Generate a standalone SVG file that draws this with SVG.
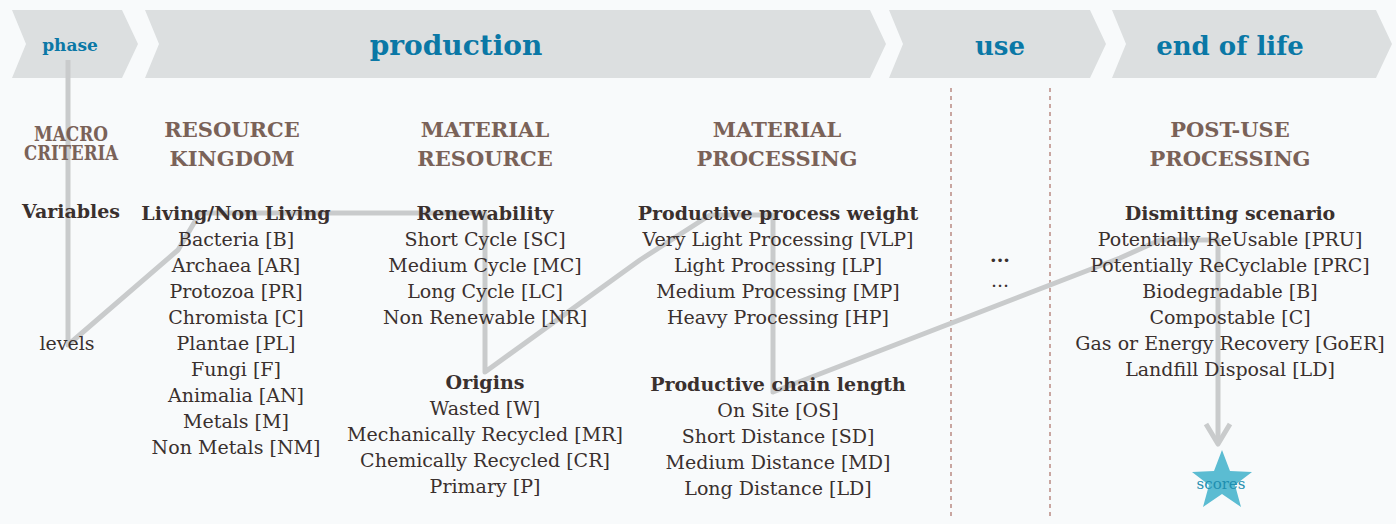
<svg xmlns="http://www.w3.org/2000/svg" width="1396" height="524" viewBox="0 0 1396 524">
<style>
text{font-family:"DejaVu Serif","Liberation Serif",serif}
.ph{fill:#dcdfe0}
.pt{font-weight:bold;fill:#0a78a6;text-anchor:middle}
.hd{font-weight:bold;fill:#7a6258;font-size:21px;text-anchor:middle}
.vb{font-weight:bold;fill:#3a302e;font-size:19px;text-anchor:middle}
.it{fill:#3a302e;font-size:19px;text-anchor:middle}
.con{fill:none;stroke:#c9cbcc;stroke-width:5;stroke-linejoin:round}
.sep{stroke:#b07a70;stroke-width:1.3;stroke-dasharray:4,4}
</style>
<rect width="1396" height="524" fill="#f8fafb"/>
<g id="header">
<polygon class="ph" points="12,10 122,10 138,44 122,78 12,78 26,44"/>
<polygon class="ph" points="145,10 870,10 886,44 870,78 145,78 159,44"/>
<polygon class="ph" points="889,10 1090,10 1106,44 1090,78 889,78 903,44"/>
<polygon class="ph" points="1112,10 1376,10 1392,44 1376,78 1112,78 1126,44"/>
</g>
<g id="separators">
<line class="sep" x1="951" y1="88" x2="951" y2="516"/>
<line class="sep" x1="1050" y1="88" x2="1050" y2="516"/>
</g>
<g id="connectors">
<polyline class="con" points="68,60 68,345 178,250 200,213 485,213 485,372 640,260 710,215 773,215 773,392 1120,258 1160,240 1218,240 1218,440"/>
<polyline class="con" points="1206,424 1218,444 1230,424"/>
</g>
<g id="phases">
<text class="pt" x="70" y="51" font-size="17">phase</text>
<text class="pt" x="456" y="55" font-size="28">production</text>
<text class="pt" x="1000" y="55" font-size="26">use</text>
<text class="pt" x="1230" y="55" font-size="26">end of life</text>
</g>
<g id="labels">
<text class="hd" x="71" y="141" font-size="14" textLength="74" lengthAdjust="spacingAndGlyphs">MACRO</text>
<text class="hd" x="71" y="160" font-size="14" textLength="94" lengthAdjust="spacingAndGlyphs">CRITERIA</text>
<text class="vb" x="71" y="218" font-size="17">Variables</text>
<text class="it" x="67" y="350" font-size="17">levels</text>
</g>
<g id="resource-kingdom">
<text class="hd" x="232" y="137">RESOURCE</text>
<text class="hd" x="232" y="166">KINGDOM</text>
<text class="vb" x="236" y="220">Living/Non Living</text>
<text class="it" x="236" y="246">Bacteria [B]</text>
<text class="it" x="236" y="272">Archaea  [AR]</text>
<text class="it" x="236" y="298">Protozoa [PR]</text>
<text class="it" x="236" y="324">Chromista [C]</text>
<text class="it" x="236" y="350">Plantae [PL]</text>
<text class="it" x="236" y="376">Fungi [F]</text>
<text class="it" x="236" y="402">Animalia [AN]</text>
<text class="it" x="236" y="428">Metals [M]</text>
<text class="it" x="236" y="454">Non Metals [NM]</text>
</g>
<g id="material-resource">
<text class="hd" x="485" y="137">MATERIAL</text>
<text class="hd" x="485" y="166">RESOURCE</text>
<text class="vb" x="485" y="220">Renewability</text>
<text class="it" x="485" y="246">Short Cycle [SC]</text>
<text class="it" x="485" y="272">Medium Cycle [MC]</text>
<text class="it" x="485" y="298">Long Cycle [LC]</text>
<text class="it" x="485" y="324">Non Renewable [NR]</text>
<text class="vb" x="485" y="389">Origins</text>
<text class="it" x="485" y="415">Wasted [W]</text>
<text class="it" x="485" y="441">Mechanically Recycled [MR]</text>
<text class="it" x="485" y="467">Chemically Recycled [CR]</text>
<text class="it" x="485" y="493">Primary [P]</text>
</g>
<g id="material-processing">
<text class="hd" x="777" y="137">MATERIAL</text>
<text class="hd" x="777" y="166">PROCESSING</text>
<text class="vb" x="778" y="220">Productive process weight</text>
<text class="it" x="778" y="246">Very Light Processing [VLP]</text>
<text class="it" x="778" y="272">Light Processing [LP]</text>
<text class="it" x="778" y="298">Medium Processing [MP]</text>
<text class="it" x="778" y="324">Heavy Processing [HP]</text>
<text class="vb" x="778" y="391">Productive chain length</text>
<text class="it" x="778" y="417">On Site [OS]</text>
<text class="it" x="778" y="443">Short Distance [SD]</text>
<text class="it" x="778" y="469">Medium Distance [MD]</text>
<text class="it" x="778" y="495">Long Distance [LD]</text>
</g>
<g id="use">
<text class="vb" x="1000" y="262">...</text>
<text class="it" x="1000" y="287">...</text>
</g>
<g id="post-use-processing">
<text class="hd" x="1230" y="137">POST-USE</text>
<text class="hd" x="1230" y="166">PROCESSING</text>
<text class="vb" x="1230" y="220">Dismitting scenario</text>
<text class="it" x="1230" y="246">Potentially ReUsable [PRU]</text>
<text class="it" x="1230" y="272">Potentially ReCyclable [PRC]</text>
<text class="it" x="1230" y="298">Biodegradable [B]</text>
<text class="it" x="1230" y="324">Compostable [C]</text>
<text class="it" x="1230" y="350">Gas or Energy Recovery [GoER]</text>
<text class="it" x="1230" y="376">Landfill Disposal [LD]</text>
</g>
<g id="scores">
<polygon fill="#5bbcd2" points="1222,450 1230,471 1252,472 1235,485 1241,507 1222,494 1203,507 1209,485 1192,472 1214,471"/>
<text x="1221" y="489" font-size="15" fill="#1f8fb0" text-anchor="middle">scores</text>
</g>
</svg>
